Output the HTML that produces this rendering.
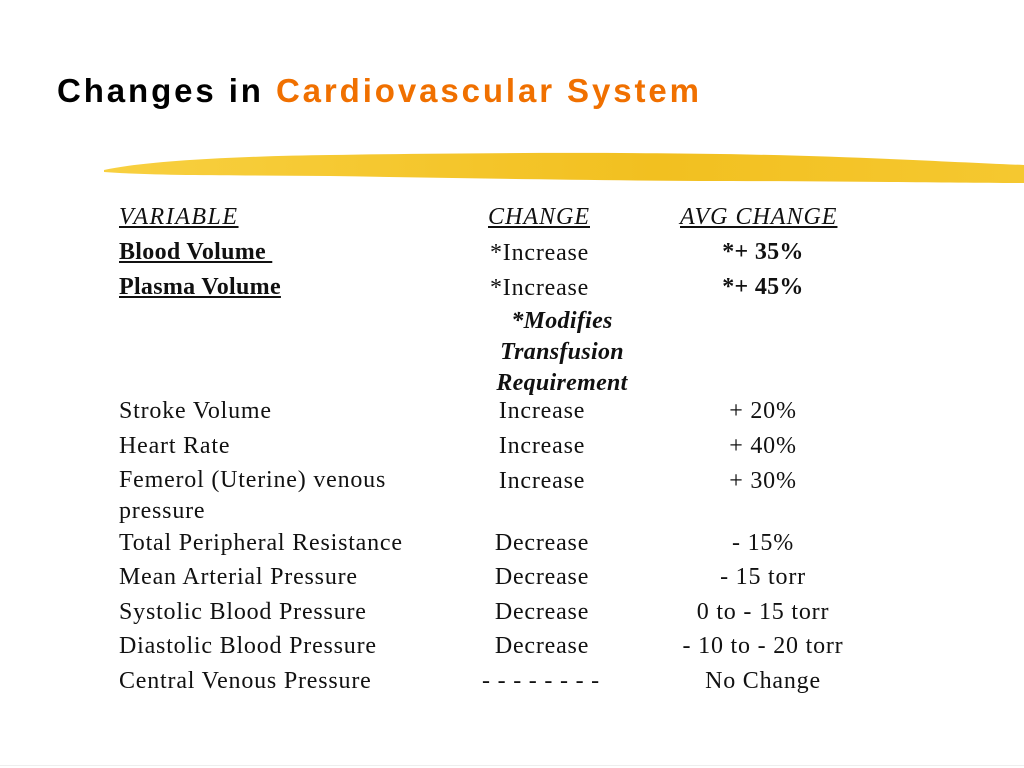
<!DOCTYPE html>
<html><head><meta charset="utf-8"><style>
html,body{margin:0;padding:0;background:#fff;width:1024px;height:768px;overflow:hidden;position:relative}
.t{position:absolute;white-space:nowrap;font-family:"Liberation Serif",serif;font-size:24px;letter-spacing:0.8px;color:#111;line-height:1}
.b{font-weight:bold;letter-spacing:0.3px}.i{font-style:italic}.u{text-decoration:underline}
.c2{width:220px;margin-left:-110px;text-align:center}
.c3{width:280px;margin-left:-140px;text-align:center}
</style></head><body>
<div style="position:absolute;left:57px;top:72px;font-family:'Liberation Sans',sans-serif;font-weight:bold;font-size:33px;letter-spacing:2.9px;color:#000;white-space:nowrap">Changes in <span style="color:#f07000">Cardiovascular System</span></div>
<svg style="position:absolute;left:0;top:0" width="1024" height="200">
<defs><linearGradient id="g" x1="0" x2="1"><stop offset="0" stop-color="#f8d040"/><stop offset="0.6" stop-color="#f2c020"/><stop offset="1" stop-color="#f5c830"/></linearGradient></defs>
<path d="M104 170 C150 160 250 156 330 155 C450 153 600 152 720 154 C850 156 950 162 1024 165 L1024 183 C950 183 850 181 700 181 C560 180 450 178 330 176 C240 175 160 176 104 172 Z" fill="url(#g)"/>
</svg>
<div class="t i u" style="left:119px;top:205px;letter-spacing:1.5px">VARIABLE</div>
<div class="t i u" style="left:488px;top:205px;letter-spacing:1px">CHANGE</div>
<div class="t i u" style="left:680px;top:205px;letter-spacing:1px">AVG CHANGE</div>

<div class="t b u" style="left:119px;top:240px">Blood Volume&nbsp;</div>
<div class="t" style="left:490px;top:241px">*Increase</div>
<div class="t b c3" style="left:763px;top:240px">*+ 35%</div>

<div class="t b u" style="left:119px;top:275px">Plasma Volume</div>
<div class="t" style="left:490px;top:276px">*Increase</div>
<div class="t b c3" style="left:763px;top:275px">*+ 45%</div>
<div class="t b i c2" style="left:562px;top:306px;line-height:31px">*Modifies<br>Transfusion<br>Requirement</div>

<div class="t" style="left:119px;top:399px">Stroke Volume</div>
<div class="t c2" style="left:542px;top:399px">Increase</div>
<div class="t c3" style="left:763px;top:399px">+ 20%</div>

<div class="t" style="left:119px;top:434px">Heart Rate</div>
<div class="t c2" style="left:542px;top:434px">Increase</div>
<div class="t c3" style="left:763px;top:434px">+ 40%</div>

<div class="t" style="left:119px;top:465px;line-height:31px">Femerol (Uterine) venous<br>pressure</div>
<div class="t c2" style="left:542px;top:469px">Increase</div>
<div class="t c3" style="left:763px;top:469px">+ 30%</div>

<div class="t" style="left:119px;top:531px">Total Peripheral Resistance</div>
<div class="t c2" style="left:542px;top:531px">Decrease</div>
<div class="t c3" style="left:763px;top:531px">- 15%</div>

<div class="t" style="left:119px;top:565px">Mean Arterial Pressure</div>
<div class="t c2" style="left:542px;top:565px">Decrease</div>
<div class="t c3" style="left:763px;top:565px">- 15 torr</div>

<div class="t" style="left:119px;top:600px">Systolic Blood Pressure</div>
<div class="t c2" style="left:542px;top:600px">Decrease</div>
<div class="t c3" style="left:763px;top:600px">0 to - 15 torr</div>

<div class="t" style="left:119px;top:634px">Diastolic Blood Pressure</div>
<div class="t c2" style="left:542px;top:634px">Decrease</div>
<div class="t c3" style="left:763px;top:634px">- 10 to - 20 torr</div>

<div class="t" style="left:119px;top:669px">Central Venous Pressure</div>
<div class="t c2" style="left:541px;top:669px">- - - - - - - -</div>
<div class="t c3" style="left:763px;top:669px">No Change</div>
<div style="position:absolute;left:0;top:765px;width:1024px;height:1px;background:#eee"></div>
</body></html>
